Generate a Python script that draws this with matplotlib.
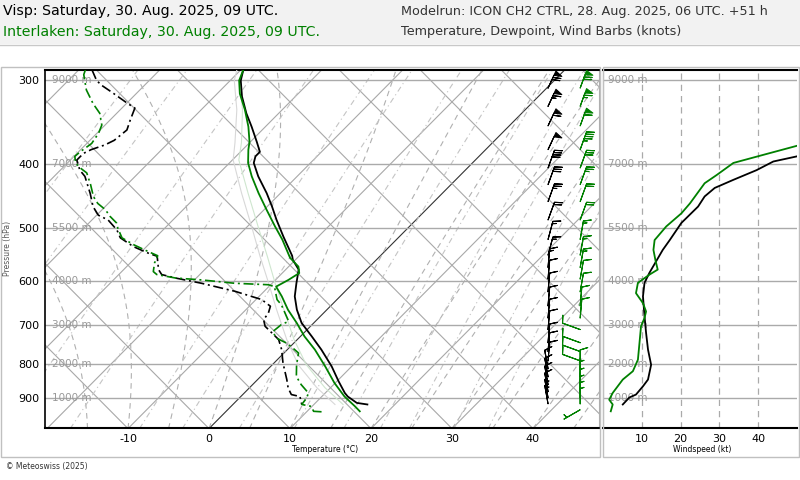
import numpy as np
import matplotlib
matplotlib.use("Agg")
import matplotlib.pyplot as plt
import matplotlib.transforms as mtransforms
from matplotlib.patches import Rectangle
from matplotlib.lines import Line2D
from matplotlib.ticker import NullLocator

# ---------------------------------------------------------------------------
# Sounding values
# ---------------------------------------------------------------------------
# Visp (black)
visp_t_p = [289, 300, 317, 336, 352, 371, 384, 390, 399, 418, 443, 464, 486, 515,
            550, 558, 577, 605, 633, 663, 694, 727, 761, 806, 849, 884, 895, 915, 920]
visp_t = [-39.7, -38.7, -36.6, -34.0, -31.7, -29.2, -27.6, -27.6, -27.0, -24.8, -21.7,
          -19.4, -17.2, -14.3, -10.9, -10.3, -8.4, -7.0, -5.6, -3.7, -1.5, 1.4, 4.2,
          7.5, 10.2, 12.4, 13.2, 15.1, 16.6]
visp_td_p = [289, 300, 305, 312, 325, 330, 344, 356, 369, 375, 381, 386, 395, 409,
             418, 443, 464, 478, 486, 503, 517, 533, 545, 551, 577, 587, 594, 605,
             622, 640, 655, 671, 686, 702, 735, 761, 797, 844, 869, 889, 895, 920]
visp_td = [-58.4, -56.5, -55.3, -53.3, -49.8, -48.4, -47.5, -46.7, -47.0, -47.6,
           -48.7, -49.2, -49.2, -47.6, -46.2, -43.5, -41.5, -39.8, -38.0, -35.7,
           -34.3, -31.6, -29.0, -27.5, -25.7, -24.7, -22.6, -18.7, -13.6, -9.3,
           -7.4, -6.8, -6.6, -5.6, -2.3, -0.7, 1.1, 3.6, 4.8, 6.0, 7.3, 8.5]

# Interlaken (green)
il_t_p = [289, 300, 314, 332, 352, 371, 381, 399, 418, 443, 469, 497, 520, 554,
          571, 584, 598, 612, 633, 663, 694, 727, 761, 806, 854, 895, 926, 942]
il_t = [-39.7, -38.9, -37.2, -34.6, -32.1, -30.1, -29.3, -27.7, -25.6, -22.7, -19.7,
        -16.6, -14.1, -10.9, -8.8, -7.9, -8.4, -9.1, -7.2, -4.8, -2.1, 0.5, 3.4,
        6.7, 9.9, 12.8, 15.3, 16.5]
il_td_p = [289, 294, 310, 325, 336, 350, 360, 373, 384, 390, 399, 406, 413, 430,
           448, 459, 469, 480, 491, 500, 517, 530, 542, 550, 564, 581, 587, 594,
           598, 605, 608, 612, 640, 652, 690, 698, 715, 731, 744, 757, 770, 802,
           835, 859, 884, 899, 920, 926, 942, 944]
il_td = [-59.2, -58.8, -56.6, -54.1, -52.1, -50.4, -49.8, -49.4, -49.8, -49.9,
         -49.0, -47.8, -46.4, -44.5, -42.7, -41.3, -39.6, -38.2, -36.6, -35.8,
         -34.1, -31.7, -29.2, -27.5, -27.0, -26.1, -25.3, -22.6, -19.1, -14.6,
         -10.3, -9.3, -7.4, -6.2, -3.3, -3.8, -4.0, -2.8, -0.9, 0.5,
         1.8, 3.0, 4.4, 6.0, 7.9, 8.3, 8.5, 9.9, 10.8, 12.1]

# faint companion curves next to the temperature profiles
faint_p = [289, 300, 332, 372, 395, 443, 498, 551, 604, 663, 735, 802, 868, 920]
faint_grey_t = [-40.5, -39.5, -35.6, -31.8, -29.9, -24.8, -19.4, -14.8, -10.5,
                -6.2, -1.3, 3.2, 8.3, 12.6]
faint_green_t = [-39.8, -38.8, -34.9, -31.0, -29.2, -24.0, -18.6, -13.9, -9.7,
                 -5.3, -0.4, 4.2, 9.3, 13.6]

# wind speed profiles (kt)
visp_ws_p = [920, 898, 889, 864, 844, 802, 761, 718, 678, 633, 604, 583, 558, 539,
             521, 491, 464, 448, 435, 423, 409, 397, 390, 370]
visp_ws = [5.1, 6.8, 8.5, 10.3, 11.6, 12.4, 11.6, 11.1, 10.7, 10.3, 10.7, 12.0,
           13.9, 15.4, 17.2, 20.2, 24.5, 26.2, 28.8, 33.6, 39.6, 43.9, 50.0, 58.0]
il_ws_p = [942, 920, 905, 884, 844, 820, 788, 744, 702, 682, 667, 648, 626, 604,
           587, 577, 558, 539, 521, 497, 475, 459, 428, 416, 399, 388, 376, 360]
il_ws = [2.0, 2.5, 1.6, 2.5, 5.1, 7.7, 9.0, 9.4, 9.8, 10.7, 11.1, 10.3, 8.5, 9.0,
         12.0, 14.1, 13.5, 13.0, 13.3, 16.3, 20.2, 22.4, 26.2, 29.3, 33.6, 41.3,
         50.0, 58.0]

# wind barbs: levels, speed (kt), direction (deg, from)
barb_p = [308, 328, 351, 381, 406, 430, 456, 486, 520, 549, 573, 596, 623, 654,
          682, 710, 743, 766, 791, 813, 836, 859, 880, 899, 918]
visp_barb_spd = [70, 65, 60, 50, 41, 30, 25, 21, 17, 15, 13, 11, 10, 10.5, 11, 11,
                 11.5, 12, 12, 12, 11.5, 10.5, 9.5, 7, 5]
visp_barb_dir = [25, 25, 25, 25, 20, 20, 20, 20, 15, 15, 5, 5, 5, 5, 5, 5, 5, 5,
                 5, 350, 350, 350, 350, 350, 350]
il_barb_p = barb_p + [937]
il_barb_spd = [70, 65, 60, 46, 32, 26, 22, 18, 13, 13.5, 14, 10, 8.5, 10.5, 10.7,
               10, 9.4, 9.2, 9, 7.5, 5, 5, 5, 5, 5, 5]
il_barb_dir = [20, 20, 20, 20, 20, 20, 20, 20, 10, 10, 10, 10, 10, 5, 5, 290, 290,
               290, 290, 0, 0, 0, 0, 0, 0, 240]

p_levels = [300, 400, 500, 600, 700, 800, 900]
height_labels = ['9000 m', '7000 m', '5500 m', '4000 m', '3000 m', '2000 m', '1000 m']
t_ticks = [-10, 0, 10, 20, 30, 40]
ws_ticks = [10, 20, 30, 40]

GREEN = '#008000'
SKEW = 35.4
P0 = 1000.0
P_BOT, P_TOP = 998.0, 289.3


def skx(t, p):
    return np.asarray(t, dtype=float) + SKEW * np.log(P0 / np.asarray(p, dtype=float))


def moist_adiabat(t0, p, lfac=2.2):
    rd, cp, lv, eps = 287.04, 1005.7, 2.501e6 * lfac, 0.622
    tk = t0 + 273.15
    out = [tk]
    for i in range(1, len(p)):
        es = 6.112 * np.exp(17.67 * (tk - 273.15) / (tk - 29.65))
        rs = eps * es / (p[i - 1] - es)
        dtdp = (rd * tk + lv * rs) / (cp + lv * lv * rs * eps / (rd * tk * tk)) / p[i - 1]
        tk = tk + dtdp * (p[i] - p[i - 1])
        out.append(tk)
    return np.array(out) - 273.15


def mixing_td(w, p):
    e = w / 1000.0 * p / (0.622 + w / 1000.0)
    a = np.log(e / 6.112)
    return 243.5 * a / (17.67 - a)


W, H = 800, 480


def box(x0, y0, x1, y1):
    return [x0 / W, 1 - y1 / H, (x1 - x0) / W, (y1 - y0) / H]


fig = plt.figure(figsize=(8, 4.8), dpi=100)

# header band
fig.add_artist(Rectangle((0, 1 - 44 / H), 1, 44 / H, transform=fig.transFigure,
                         facecolor='#f2f2f2', edgecolor='none', zorder=0))
fig.add_artist(Line2D([0, 1], [1 - 44.5 / H] * 2, transform=fig.transFigure,
                      color='#c8c8c8', lw=1))
fig.text(3 / W, 1 - 11 / H, 'Visp: Saturday, 30. Aug. 2025, 09 UTC.', fontsize=10.2,
         color='black', va='center', ha='left')
fig.text(3 / W, 1 - 32 / H, 'Interlaken: Saturday, 30. Aug. 2025, 09 UTC.', fontsize=10.2,
         color=GREEN, va='center', ha='left')
fig.text(401 / W, 1 - 11 / H, 'Modelrun: ICON CH2 CTRL, 28. Aug. 2025, 06 UTC. +51 h',
         fontsize=9.2, color='#333333', va='center', ha='left')
fig.text(401 / W, 1 - 32 / H, 'Temperature, Dewpoint, Wind Barbs (knots)',
         fontsize=9.2, color='#333333', va='center', ha='left')

# panel frames
for x0, x1 in [(1, 600), (603, 799)]:
    fig.add_artist(Rectangle((x0 / W, 1 - 457 / H), (x1 - x0) / W, (457 - 67) / H,
                             transform=fig.transFigure, facecolor='none',
                             edgecolor='#c0c0c0', lw=1))
fig.text(6 / W, 1 - 466 / H, '© Meteoswiss (2025)', fontsize=5.5, color='#333333',
         va='center', ha='left')

# ---------------------------------------------------------------------------
# skew-T panel
# ---------------------------------------------------------------------------
ax = fig.add_axes(box(45, 70, 599, 428))
ax.set_yscale('log')
ax.set_ylim(P_BOT, P_TOP)
ax.set_xlim(-20.25, 48.15)
ax.yaxis.set_minor_locator(NullLocator())
ax.set_yticks(p_levels)
ax.set_yticklabels([str(p) for p in p_levels])
ax.set_xticks(t_ticks)
ax.set_xticklabels([str(t) for t in t_ticks])
ax.tick_params(length=0, labelsize=8, pad=4)

pp = np.geomspace(1000, 280, 300)
# isotherms
for t0 in range(-100, 50, 10):
    ax.plot(skx(t0, pp), pp, color='#333333' if t0 == 0 else '#a8a8a8', lw=0.8, zorder=1)
# straight dry-adiabat lines
for c in range(-20, 160, 10):
    ax.plot(c - SKEW * np.log(P0 / pp), pp, color='#a8a8a8', lw=0.8, zorder=1)
# saturated adiabats
for t0 in range(-15, 70, 5):
    ax.plot(skx(moist_adiabat(t0, pp), pp), pp, color='#b0b0b0', lw=0.8,
            linestyle=(0, (5, 4)), zorder=1)
# mixing ratio lines
for w in [0.1, 0.2, 0.5, 1, 2, 3, 5, 8, 12, 16, 20, 28, 36]:
    ax.plot(skx(mixing_td(w, pp), pp), pp, color='#c4c4c4', lw=0.8,
            linestyle=(0, (5, 3, 1, 3)), zorder=1)

blend = mtransforms.blended_transform_factory(ax.transAxes, ax.transData)
for p, lab in zip(p_levels, height_labels):
    ax.axhline(p, color='#aaaaaa', lw=1.0, zorder=2)
    ax.text(0.012, p, lab, transform=blend, va='center', ha='left', fontsize=7.5,
            color='#999999', zorder=2)

ax.plot(skx(faint_grey_t, faint_p), faint_p, color='#d8d8d8', lw=0.8, zorder=3)
ax.plot(skx(faint_green_t, faint_p), faint_p, color='#cfe6cf', lw=0.8, zorder=3)

dash = (0, (6, 2.2, 1.2, 2.2))
ax.plot(skx(visp_t, visp_t_p), visp_t_p, color='black', lw=1.3, zorder=5)
ax.plot(skx(il_t, il_t_p), il_t_p, color=GREEN, lw=1.3, zorder=5)
ax.plot(skx(visp_td, visp_td_p), visp_td_p, color='black', lw=1.2, linestyle=dash, zorder=5)
ax.plot(skx(il_td, il_td_p), il_td_p, color=GREEN, lw=1.2, linestyle=dash, zorder=5)

# wind barbs
for xa, pl, spd, dr, col in [(0.908, barb_p, visp_barb_spd, visp_barb_dir, 'black'),
                             (0.966, il_barb_p, il_barb_spd, il_barb_dir, GREEN)]:
    spd = np.array(spd, dtype=float)
    rad = np.deg2rad(dr)
    u = -spd * np.sin(rad)
    v = -spd * np.cos(rad)
    ax.barbs(np.full(len(pl), xa), pl, u, v, transform=blend, length=5.2, color=col,
             lw=0.8, zorder=6, clip_on=False)

for side in ['top', 'bottom']:
    ax.spines[side].set_linewidth(1.5)
ax.spines['left'].set_linewidth(1.2)
ax.spines['right'].set_color('#aaaaaa')

fig.text(325 / W, 1 - 449 / H, 'Temperature (°C)', fontsize=5.5, ha='center', va='center')
fig.text(8 / W, 1 - 248 / H, 'Pressure (hPa)', fontsize=5.5, ha='center', va='center',
         rotation=90, color='#555555')

# ---------------------------------------------------------------------------
# wind speed panel
# ---------------------------------------------------------------------------
ax2 = fig.add_axes(box(603, 70, 797, 428))
ax2.set_yscale('log')
ax2.set_ylim(P_BOT, P_TOP)
ax2.set_xlim(0, 50)
ax2.yaxis.set_minor_locator(NullLocator())
ax2.set_yticks([])
ax2.set_xticks(ws_ticks)
ax2.set_xticklabels([str(t) for t in ws_ticks])
ax2.tick_params(length=0, labelsize=8, pad=4)
for x in ws_ticks:
    ax2.axvline(x, color='#aaaaaa', lw=0.9, linestyle=(0, (5, 4)), zorder=1)
blend2 = mtransforms.blended_transform_factory(ax2.transAxes, ax2.transData)
for p, lab in zip(p_levels, height_labels):
    ax2.axhline(p, color='#aaaaaa', lw=1.0, zorder=2)
    ax2.text(0.025, p, lab, transform=blend2, va='center', ha='left', fontsize=7.5,
             color='#999999', zorder=2)
ax2.plot(visp_ws, visp_ws_p, color='black', lw=1.3, zorder=5)
ax2.plot(il_ws, il_ws_p, color=GREEN, lw=1.3, zorder=5)
for side in ['top', 'bottom']:
    ax2.spines[side].set_linewidth(1.5)
ax2.spines['left'].set_color('#aaaaaa')
ax2.spines['right'].set_visible(False)
fig.text(702 / W, 1 - 449 / H, 'Windspeed (kt)', fontsize=5.5, ha='center', va='center')

fig.savefig('out.png', dpi=100)
